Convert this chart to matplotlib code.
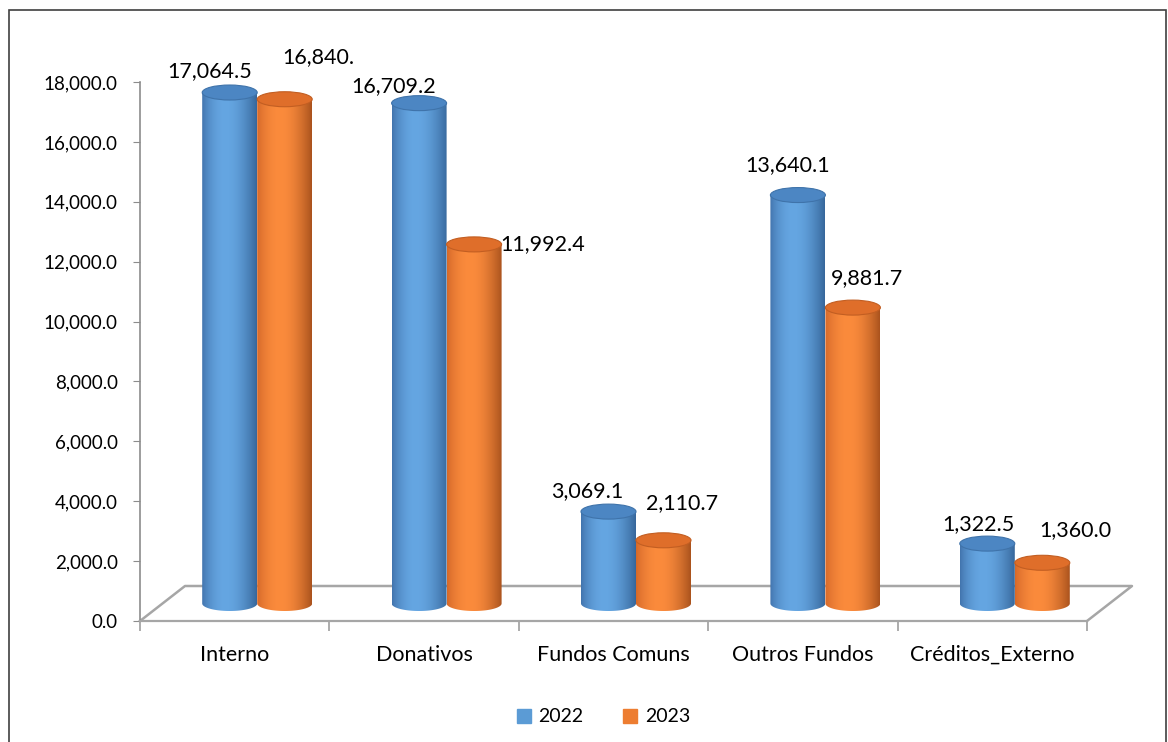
import numpy as np
import matplotlib
matplotlib.use('Agg')
from matplotlib import pyplot as plt
from matplotlib.patches import Ellipse, PathPatch, Rectangle
from matplotlib.path import Path
from matplotlib.lines import Line2D

plt.rcParams['font.family'] = ['Lato', 'DejaVu Sans']

# Data
categories = ['Interno', 'Donativos', 'Fundos Comuns', 'Outros Fundos', 'Créditos_Externo']
years = ['2022', '2023']
values_2022 = [17064.5, 16709.2, 3069.1, 13640.1, 2000.0]
values_2023 = [16840.0, 11992.4, 2110.7, 9881.7, 1360.0]
labels_2022 = ['17,064.5', '16,709.2', '3,069.1', '13,640.1', '1,322.5']
labels_2023 = ['16,840.', '11,992.4', '2,110.7', '9,881.7', '1,360.0']
yticks = np.arange(0, 18001, 2000)

# label offsets (pixels) from top of each cylinder, as Excel placed them
offs_2022 = [(-20, 21), (-25, 17), (-21, 21), (-10, 30), (-9, 20)]
offs_2023 = [(34, 42), (69, 0), (19, 37), (14, 30), (33, 33)]

W, H = 1168, 742
fig = plt.figure(figsize=(W / 100, H / 100), dpi=100)
ax = fig.add_axes([140 / W, 1 - 621 / H, (1087 - 140) / W, (621 - 82) / H])
ax.set_xlim(-0.5, 4.5)
ax.set_ylim(0, 18000)

grey = '#8c8c8c'
for s in ['top', 'right']:
    ax.spines[s].set_visible(False)
ax.spines['left'].set_color(grey)
ax.spines['bottom'].set_color('#a6a6a6')
ax.spines['bottom'].set_linewidth(1.6)
ax.spines['left'].set_linewidth(1.2)

ax.set_yticks(yticks)
ax.set_yticklabels([f'{v:,.1f}' for v in yticks])
ax.tick_params(axis='y', length=5, color=grey, labelsize=13.5, pad=11)
ax.set_xticks(range(len(categories)))
ax.set_xticklabels(categories)
ax.tick_params(axis='x', length=0, labelsize=15.5, pad=17)
ax.set_xticks(np.arange(-0.5, 4.6, 1), minor=True)
ax.tick_params(axis='x', which='minor', length=7, color='#a6a6a6', width=1.3)

# floor of the 3D box
px_per_unit_y = (621 - 82) / 18000
dx = 45 / 189.4
dy = 35 / px_per_unit_y
floor_kw = dict(color='#a6a6a6', lw=1.8, clip_on=False, zorder=1)
ax.plot([-0.5, -0.5 + dx, 4.5 + dx, 4.5], [0, dy, dy, 0], **floor_kw)

bar_w = 55 / 189.4
ell_h = 15 / px_per_unit_y


def shade(edge_l, bright, edge_r, n=200):
    u = np.linspace(0, 1, n)
    edge_l, bright, edge_r = [np.array(matplotlib.colors.to_rgb(c)) for c in (edge_l, bright, edge_r)]
    peak = 0.42
    img = np.zeros((1, n, 3))
    for i, t in enumerate(u):
        if t < peak:
            f = np.sin(np.pi / 2 * t / peak) ** 0.8
            img[0, i] = edge_l + (bright - edge_l) * f
        else:
            f = np.cos(np.pi / 2 * (t - peak) / (1 - peak)) ** 0.9
            img[0, i] = edge_r + (bright - edge_r) * f
    return img


def cylinder(xc, base, h, grad, top_color, top_edge):
    x0, x1 = xc - bar_w / 2, xc + bar_w / 2
    t = np.linspace(0, np.pi, 60)
    bx = xc - bar_w / 2 * np.cos(t)
    by = base - ell_h / 2 * np.sin(t)
    verts = [(x0, base + h)] + list(zip(bx, by)) + [(x1, base + h), (x0, base + h)]
    codes = [Path.MOVETO] + [Path.LINETO] * (len(verts) - 2) + [Path.CLOSEPOLY]
    patch = PathPatch(Path(verts, codes), transform=ax.transData, facecolor='none', edgecolor='none')
    ax.add_patch(patch)
    im = ax.imshow(grad, extent=[x0, x1, base - ell_h / 2, base + h], aspect='auto',
                   interpolation='bilinear', zorder=3)
    im.set_clip_path(patch)
    ax.add_patch(Ellipse((xc, base + h), bar_w, ell_h, facecolor=top_color,
                         edgecolor=top_edge, lw=0.8, zorder=4))


blue_grad = shade('#4173ac', '#65a6e2', '#36669a')
orange_grad = shade('#d4682a', '#fb8b3c', '#a9521d')

base = dy / 2
xs = np.arange(len(categories)) + dx / 2
for i in range(len(categories)):
    xb = xs[i] - bar_w / 2
    xo = xs[i] + bar_w / 2
    cylinder(xb, base, values_2022[i], blue_grad, '#4c86c3', '#3f73aa')
    cylinder(xo, base, values_2023[i], orange_grad, '#df6e2a', '#c25e22')
    ax.annotate(labels_2022[i], (xb, base + values_2022[i]), xytext=offs_2022[i],
                textcoords='offset pixels', ha='center', va='center', fontsize=15.5,
                annotation_clip=False, zorder=6)
    ax.annotate(labels_2023[i], (xo, base + values_2023[i]), xytext=offs_2023[i],
                textcoords='offset pixels', ha='center', va='center', fontsize=15.5,
                annotation_clip=False, zorder=6)

ax.set_xlim(-0.5, 4.5)
ax.set_ylim(0, 18000)

handles = [Line2D([], [], marker='s', ls='', markersize=10, color='#5b9bd5'),
           Line2D([], [], marker='s', ls='', markersize=10, color='#ed7d31')]
fig.legend(handles, years, loc='center', bbox_to_anchor=(603 / W, 1 - 717 / H), ncol=2,
           frameon=False, fontsize=14, handlelength=0.8, handletextpad=0.35, columnspacing=2.0)

# outer border of the chart area
fig.patches.append(Rectangle((9 / W, -0.01), (1166 - 9) / W, 1 - 10 / H + 0.01,
                             transform=fig.transFigure, fill=False, edgecolor='#404040', lw=1.2))

fig.savefig('out.png', dpi=100)
